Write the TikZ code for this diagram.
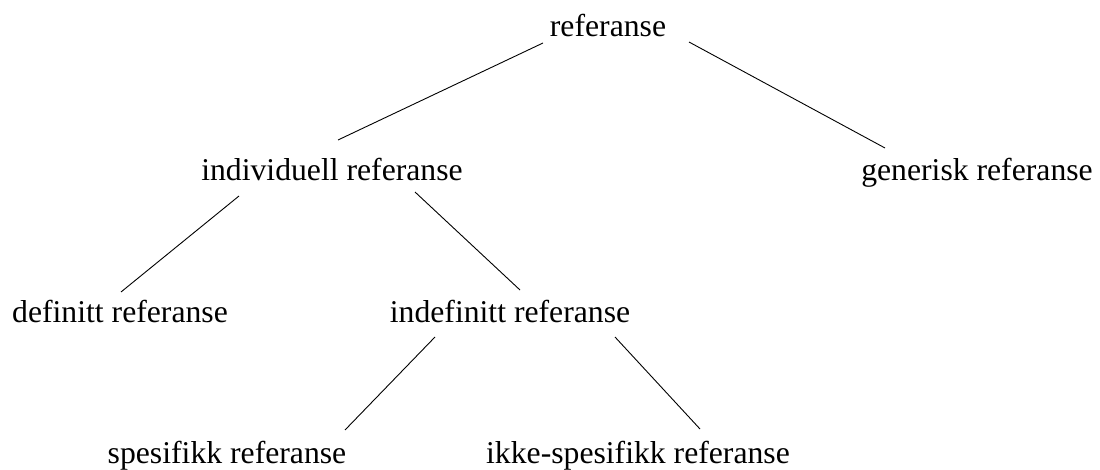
\documentclass[tikz,border=0pt]{standalone}
\usepackage{fontspec}
\setmainfont{Liberation Serif}
\begin{document}
\begin{tikzpicture}[x=1pt,y=-1pt,
  term/.style={anchor=base,inner sep=0pt,font=\fontsize{31.7}{38}\selectfont},
  branch/.style={line width=0.9pt}]
\useasboundingbox (0,0) rectangle (1100,470);
% tree labels (positions are baselines)
\node[term] (ref)   at (608,37)  {referanse};
\node[term] (ind)   at (332,181) {individuell referanse};
\node[term] (gen)   at (977,181) {generisk referanse};
\node[term] (def)   at (120,322) {definitt referanse};
\node[term] (indef) at (510,322) {indefinitt referanse};
\node[term] (spes)  at (227,463) {spesifikk referanse};
\node[term] (ikke)  at (638,463) {ikke-spesifikk referanse};
% branch end points
\coordinate (ref-l)   at (543,43);
\coordinate (ref-r)   at (689,42);
\coordinate (ind-t)   at (338,140);
\coordinate (gen-t)   at (885,148);
\coordinate (ind-l)   at (239,196);
\coordinate (ind-r)   at (415,192);
\coordinate (def-t)   at (121,292);
\coordinate (indef-t) at (520,290);
\coordinate (indef-l) at (435,337);
\coordinate (indef-r) at (615,337);
\coordinate (spes-t)  at (345,430);
\coordinate (ikke-t)  at (700,429);
% branches
\draw[branch] (ref-l) -- (ind-t);
\draw[branch] (ref-r) -- (gen-t);
\draw[branch] (ind-l) -- (def-t);
\draw[branch] (ind-r) -- (indef-t);
\draw[branch] (indef-l) -- (spes-t);
\draw[branch] (indef-r) -- (ikke-t);
\end{tikzpicture}
\end{document}
